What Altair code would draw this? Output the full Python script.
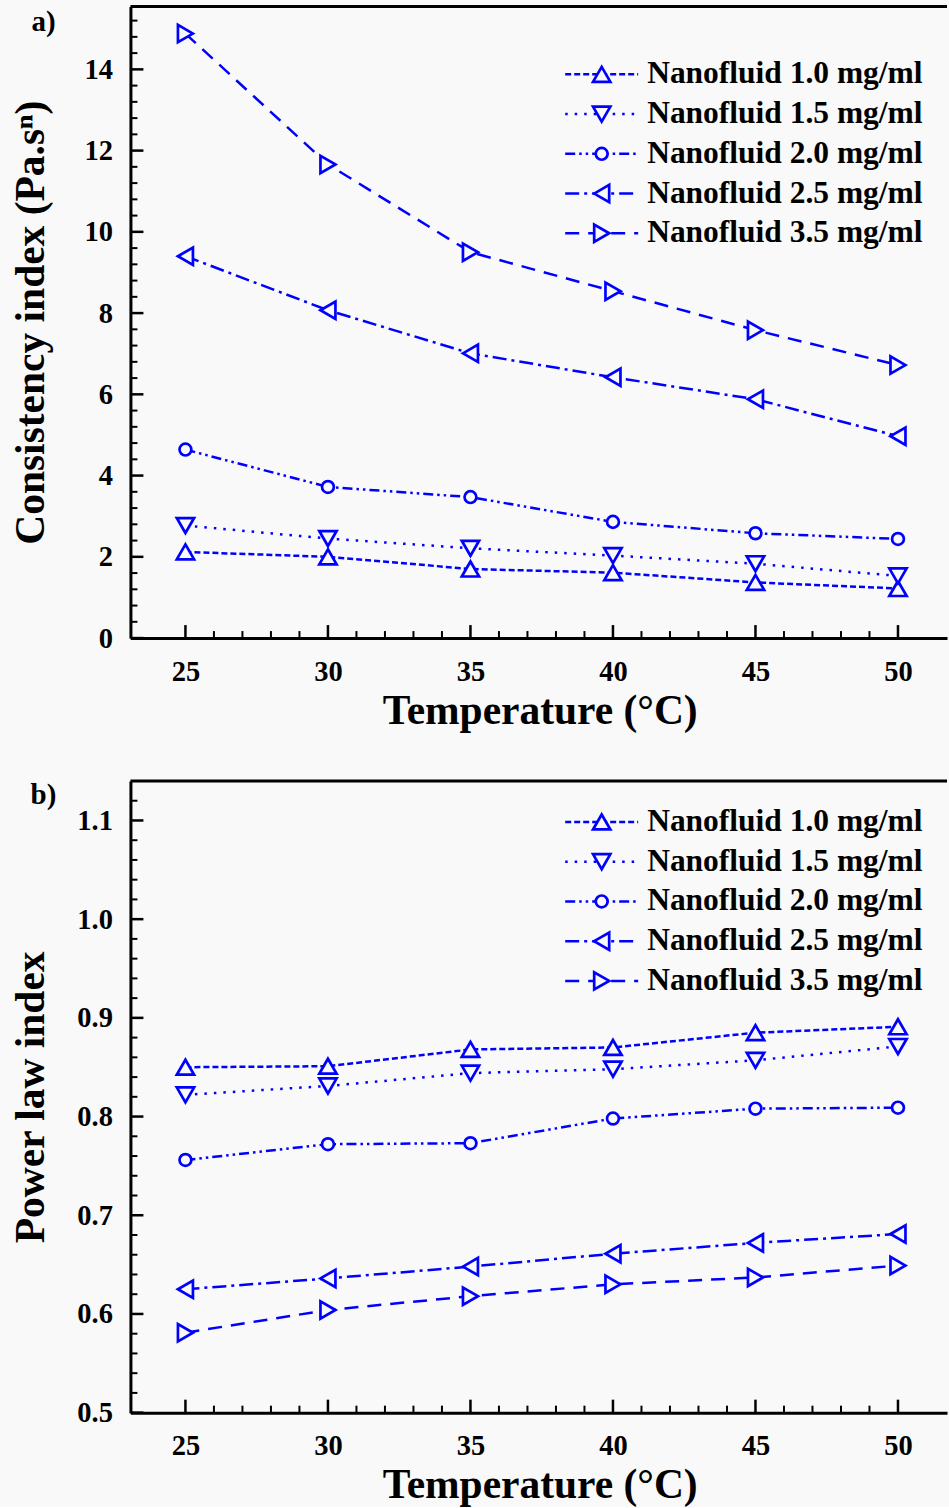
import altair as alt
import pandas as pd

# ---- data -----------------------------------------------------------------
temperature = [25, 30, 35, 40, 45, 50]
series_names = [
    "Nanofluid 1.0 mg/ml",
    "Nanofluid 1.5 mg/ml",
    "Nanofluid 2.0 mg/ml",
    "Nanofluid 2.5 mg/ml",
    "Nanofluid 3.5 mg/ml",
]

# consistency index K (Pa.s^n)
k_10 = [2.12, 2.00, 1.70, 1.61, 1.37, 1.22]
k_15 = [2.77, 2.45, 2.21, 2.03, 1.83, 1.53]
k_20 = [4.64, 3.72, 3.47, 2.86, 2.58, 2.44]
k_25 = [9.40, 8.07, 7.01, 6.42, 5.88, 4.97]
k_35 = [14.88, 11.66, 9.50, 8.54, 7.58, 6.72]

# power law index n
n_10 = [0.850, 0.851, 0.868, 0.870, 0.885, 0.891]
n_15 = [0.822, 0.831, 0.844, 0.848, 0.857, 0.871]
n_20 = [0.756, 0.772, 0.773, 0.798, 0.808, 0.809]
n_25 = [0.625, 0.636, 0.648, 0.661, 0.672, 0.681]
n_35 = [0.581, 0.604, 0.618, 0.630, 0.637, 0.649]

x_labels = [25, 30, 35, 40, 45, 50]
k_labels = [0, 2, 4, 6, 8, 10, 12, 14]
n_labels = [0.5, 0.6, 0.7, 0.8, 0.9, 1.0, 1.1]

# ---- styling --------------------------------------------------------------
FONT = "Liberation Serif"
BLUE = "#0000ff"
BG = "#f9f9f9"
W, H = 817, 632
LINE_W = 2.5

dashes = [[6, 3], [2.5, 7], [10, 4, 2.5, 4, 2.5, 4], [14, 5, 3, 5], [14, 9]]
shapes = ["triangle-up", "triangle-down", "circle", "triangle-left", "triangle-right"]
sizes = [300, 300, 140, 300, 300]


def one_row():
    return pd.DataFrame({"k": [0]})


def panel(series_values, y_domain, y_values, y_minor, y_format, y_title, tag, legend_top):
    rows = []
    for name, vals in zip(series_names, series_values):
        for t, v in zip(temperature, vals):
            rows.append({"T": t, "v": v, "s": name})
    df = pd.DataFrame(rows)

    x_enc = alt.X(
        "T:Q",
        scale=alt.Scale(domain=[23.07, 51.72], nice=False, zero=False),
        axis=alt.Axis(
            values=x_labels,
            title="Temperature (°C)",
            labelPadding=42,
            labelBaseline="alphabetic",
            titleBaseline="alphabetic",
            titleY=85,
            titleX=W / 2 + 1,
        ),
    )
    y_enc = alt.Y(
        "v:Q",
        scale=alt.Scale(domain=y_domain, nice=False, zero=False),
        axis=alt.Axis(
            values=y_values,
            format=y_format,
            title=y_title,
            labelPadding=18,
            titleX=-99,
            titleY=H / 2,
            titleAngle=270,
            titleAlign="center",
            titleBaseline="middle",
        ),
    )

    layers = []

    # inward tick marks
    x_major = pd.DataFrame({"T": list(range(25, 51, 5))})
    x_minor = pd.DataFrame({"T": [t for t in range(25, 51) if t % 5]})
    layers.append(alt.Chart(x_major).mark_rule(color="black", strokeWidth=2.5).encode(
        x=x_enc, y=alt.value(H), y2=alt.value(H - 13)))
    layers.append(alt.Chart(x_minor).mark_rule(color="black", strokeWidth=2).encode(
        x=x_enc, y=alt.value(H), y2=alt.value(H - 7)))
    layers.append(alt.Chart(pd.DataFrame({"v": y_values})).mark_rule(color="black", strokeWidth=2.5).encode(
        y=y_enc, x=alt.value(0), x2=alt.value(13)))
    layers.append(alt.Chart(pd.DataFrame({"v": y_minor})).mark_rule(color="black", strokeWidth=2).encode(
        y=y_enc, x=alt.value(0), x2=alt.value(7)))

    # top frame line
    layers.append(alt.Chart(one_row()).mark_rule(color="black", strokeWidth=3).encode(
        x=alt.value(0), x2=alt.value(W), y=alt.value(0)))

    # series: dashed connecting lines, then hollow markers on top
    for name, dash in zip(series_names, dashes):
        sub = df[df["s"] == name]
        layers.append(alt.Chart(sub).mark_line(color=BLUE, strokeWidth=LINE_W, strokeDash=dash).encode(
            x=x_enc, y=y_enc))
    for name, shape, size in zip(series_names, shapes, sizes):
        sub = df[df["s"] == name]
        layers.append(alt.Chart(sub).mark_point(
            shape=shape, size=size, filled=True, fill=BG, stroke=BLUE,
            strokeWidth=2.7, opacity=1).encode(x=x_enc, y=y_enc))

    # legend
    for i, (name, dash, shape, size) in enumerate(zip(series_names, dashes, shapes, sizes)):
        yy = legend_top + i * 39.75
        layers.append(alt.Chart(one_row()).mark_rule(color=BLUE, strokeWidth=LINE_W, strokeDash=dash).encode(
            x=alt.value(435), x2=alt.value(508), y=alt.value(yy)))
        layers.append(alt.Chart(one_row()).mark_point(
            shape=shape, size=size, filled=True, fill=BG, stroke=BLUE,
            strokeWidth=2.7, opacity=1).encode(x=alt.value(471.5), y=alt.value(yy)))
        layers.append(alt.Chart(one_row()).mark_text(
            font=FONT, fontSize=31.5, fontWeight="bold", color="black",
            align="left", baseline="middle").encode(
            x=alt.value(517), y=alt.value(yy), text=alt.value(name)))

    # panel tag
    layers.append(alt.Chart(one_row()).mark_text(
        font=FONT, fontSize=29, fontWeight="bold", color="black",
        align="center", baseline="alphabetic").encode(
        x=alt.value(-87), y=alt.value(tag[1]), text=alt.value(tag[0])))

    return alt.layer(*layers).properties(width=W, height=H)


k_minor = [round(i * 0.4, 2) for i in range(0, 39) if (i * 0.4) % 2 > 1e-6 and abs((i * 0.4) % 2 - 2) > 1e-6]
n_minor = [round(0.5 + i * 0.02, 2) for i in range(0, 32) if i % 5]

panel_a = panel(
    [k_10, k_15, k_20, k_25, k_35], [0, 15.55], k_labels, k_minor, "d",
    "Consistency index (Pa.sⁿ)", ("a)", 25), 68)
panel_b = panel(
    [n_10, n_15, n_20, n_25, n_35], [0.5, 1.14], n_labels, n_minor, ".1f",
    "Power law index", ("b)", 23), 41)

chart = alt.VConcatChart(vconcat=[panel_a, panel_b], spacing=143, bounds="flush").properties(
    padding={"left": 9.5, "top": 4, "right": 0, "bottom": 0}
).configure(
    background=BG,
    font=FONT,
).configure_view(
    stroke="transparent",
).configure_axis(
    domainColor="black",
    domainWidth=3,
    ticks=False,
    grid=False,
    labelFont=FONT,
    labelFontSize=28.5,
    labelFontWeight="bold",
    labelColor="black",
    labelFlush=False,
    labelOverlap=False,
    titleFont=FONT,
    titleFontSize=41.5,
    titleFontWeight="bold",
    titleColor="black",
)

chart.save("out.html", embed_options={"renderer": "svg", "actions": False})
